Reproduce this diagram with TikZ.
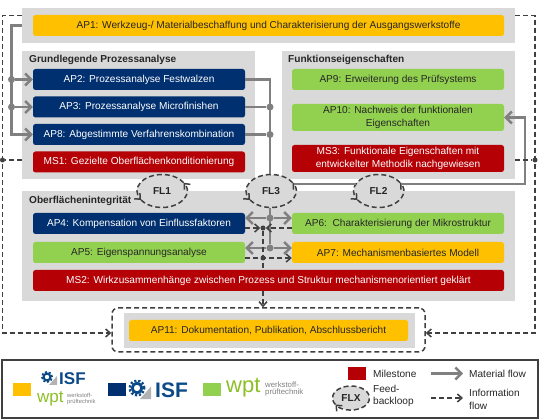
\documentclass[tikz,border=0pt]{standalone}
\usepackage{fontspec}
\setmainfont{Liberation Sans}
\usetikzlibrary{arrows.meta,shapes.geometric}
\definecolor{apyellow}{HTML}{FFC000}
\definecolor{apblue}{HTML}{003070}
\definecolor{apgreen}{HTML}{92D050}
\definecolor{apred}{HTML}{B50005}
\definecolor{boxgray}{HTML}{D9D9D9}
\definecolor{matgray}{HTML}{808080}
\definecolor{infogray}{HTML}{404040}
\definecolor{isfblue}{HTML}{0B4A86}
\definecolor{wptgreen}{HTML}{8CBF26}
\tikzset{
  apbox/.style={rounded corners=2.5pt, inner sep=0pt, align=center, minimum height=21pt, minimum width=212pt, font=\fontsize{10.1}{12.4}\selectfont},
  apY/.style={apbox, fill=apyellow, text=black!85},
  apB/.style={apbox, fill=apblue, text=white},
  apG/.style={apbox, fill=apgreen, text=black!85},
  apR/.style={apbox, fill=apred, text=white},
  group/.style={fill=boxgray, inner sep=0pt},
  title/.style={anchor=west, inner sep=0pt, font=\fontsize{10.1}{12}\selectfont\bfseries, text=black!85},
  matflow/.style={draw=matgray, line width=2.4pt, -{Straight Barb[length=6pt,width=12pt]}},
  matline/.style={draw=matgray, line width=2.4pt},
  infoflow/.style={draw=infogray, line width=1.5pt, dash pattern=on 5pt off 3pt, -{Straight Barb[length=4.5pt,width=8pt]}},
  infoline/.style={draw=infogray, line width=1.5pt, dash pattern=on 5pt off 3pt},
  matdot/.style={circle, fill=matgray, inner sep=0pt, minimum size=7pt},
  infodot/.style={circle, fill=infogray, inner sep=0pt, minimum size=5pt},
  feedback/.style={ellipse, fill=boxgray, inner sep=0pt, minimum width=50pt, minimum height=33pt, font=\fontsize{10.1}{12}\selectfont\bfseries, text=black!85},
  legendtext/.style={anchor=west, inner sep=0pt, align=left, font=\fontsize{10.1}{12.4}\selectfont, text=black!85},
  swatch/.style={inner sep=0pt, minimum width=18pt, minimum height=13pt},
  isflogo/.style={inner sep=0pt, anchor=west, text=isfblue},
  wptlogo/.style={inner sep=0pt, anchor=west, text=wptgreen},
  wpttext/.style={anchor=west, inner sep=0pt, align=left, text=black!50},
}
% arc with a head on the way round a feedback ellipse
\newcommand{\loopback}[3]{\draw[infoflow] ([shift={(#2:25pt and 16.5pt)}]#1.center) arc[start angle=#2, end angle=#3, x radius=25pt, y radius=16.5pt];}
% gear of the logo with its gray corner
\newcommand{\gearlogo}[3]{
  \begin{scope}[shift={(#1,#2)},scale=#3]
  \fill[black!30] (2,-8) -- (10,-8) -- (10,1) -- cycle;
  \draw[isfblue, line width=#3*2pt] (0,0) circle (3.4);
  \draw[isfblue, line width=#3*1.7pt, dash pattern=on 2.2pt off 1.8pt] (0,0) circle (5.2);
  \end{scope}
}
\begin{document}
\begin{tikzpicture}[x=1pt,y=1pt]
\useasboundingbox (0,0) rectangle (541,420);
% groups
\node[group, minimum width=493pt, minimum height=35pt] (top) at (268.5,394.5) {};
\node[group, minimum width=233pt, minimum height=128pt] (grund) at (138.5,305) {};
\node[group, minimum width=233pt, minimum height=128pt] (funk) at (398.5,305) {};
\node[group, minimum width=493pt, minimum height=110pt] (ober) at (268.5,174) {};
\node[group, minimum width=291pt, minimum height=35pt] (docu) at (269,89.5) {};
\node[draw=infogray, line width=1.5pt, dash pattern=on 5pt off 3pt, rounded corners=6pt, inner sep=0pt, minimum width=313pt, minimum height=44pt] (dashbox) at (268.5,90) {};
\node[title] (t1) at (29,360) {Grundlegende Prozessanalyse};
\node[title] (t2) at (288,360) {Funktionseigenschaften};
\node[title] (t3) at (29,219) {Oberflächenintegrität};
% work packages
\node[apY, minimum width=471pt] (ap1) at (268.5,394.5) {AP1: Werkzeug-/ Materialbeschaffung und Charakterisierung der Ausgangswerkstoffe};
\node[apB] (ap2) at (139,340.5) {AP2: Prozessanalyse Festwalzen};
\node[apB] (ap3) at (139,313) {AP3: Prozessanalyse Microfinishen};
\node[apB] (ap8) at (139,285.5) {AP8: Abgestimmte Verfahrenskombination};
\node[apR] (ms1) at (139,258) {MS1: Gezielte Oberflächenkonditionierung};
\node[apG] (ap9) at (398,340.5) {AP9: Erweiterung des Prüfsystems};
\node[apG, minimum height=27pt] (ap10) at (398,302.5) {AP10: Nachweis der funktionalen\\Eigenschaften};
\node[apR, minimum height=27pt] (ms3) at (398,261.5) {MS3: Funktionale Eigenschaften mit\\entwickelter Methodik nachgewiesen};
\node[apB] (ap4) at (139,196.5) {AP4: Kompensation von Einflussfaktoren};
\node[apG] (ap5) at (139,167.5) {AP5: Eigenspannungsanalyse};
\node[apG] (ap6) at (398,196.5) {AP6:\ \ Charakterisierung der Mikrostruktur};
\node[apY] (ap7) at (398,167.5) {AP7: Mechanismenbasiertes Modell};
\node[apR, minimum width=471pt] (ms2) at (268.5,139.5) {MS2: Wirkzusammenhänge zwischen Prozess und Struktur mechanismenorientiert geklärt};
\node[apY, minimum width=279pt] (ap11) at (268.5,89.5) {AP11: Dokumentation, Publikation, Abschlussbericht};
% feedback loops
\node[feedback] (fl1) at (162,229) {FL1};
\node[feedback] (fl3) at (271,229) {FL3};
\node[feedback] (fl2) at (378.5,229) {FL2};
\loopback{fl1}{30}{213}
\loopback{fl1}{213}{390}
\loopback{fl3}{30}{213}
\loopback{fl3}{213}{390}
\loopback{fl2}{30}{213}
\loopback{fl2}{213}{390}
% material flow
\coordinate (c1) at (11.5,285.5);
\coordinate (c2) at (525,302.5);
\node[matdot] (j2) at (11.5,340.5) {};
\node[matdot] (j3) at (11.5,313) {};
\node[matdot] (j4) at (270,313) {};
\node[matdot] (j5) at (270,285.5) {};
\node[matdot] (j6) at (270,202) {};
\node[matdot] (j7) at (270,172) {};
\draw[matflow] (top.west) -| (c1) -- (ap8.west);
\draw[matflow] (j2) -- (ap2.west);
\draw[matflow] (j3) -- (ap3.west);
\draw[matline] (ap2.east) -| (fl3.north -| j4);
\draw[matline] (ap3.east) -- (j4);
\draw[matline] (ap8.east) -- (j5);
\draw[matline] (fl3.17) -- (fl2.163);
\draw[matflow] (fl2.17) -| (c2) -- (ap10.east);
\draw[matline] (fl3.south -| j6) -- (j7);
\draw[matflow] (j6) -- (ap4.east |- j6);
\draw[matflow] (j6) -- (ap6.west |- j6);
\draw[matflow] (j7) -- (ap5.east |- j7);
\draw[matflow] (j7) -- (ap7.west |- j7);
% information flow
\coordinate (c3) at (2.5,87);
\coordinate (c4) at (535,87);
\node[infodot] (j8) at (2.5,260) {};
\node[infodot] (j9) at (535,260) {};
\node[infodot] (j10) at (263,192) {};
\node[infodot] (j11) at (263,162) {};
\draw[infoflow] ([yshift=10pt]top.west) -| (c3) -- (dashbox.west |- c3);
\draw[infoflow] ([yshift=10pt]top.east) -| (c4) -- (dashbox.east |- c4);
\draw[infoline] (grund.west |- j8) -- (j8);
\draw[infoline] (funk.east |- j9) -- (j9);
\draw[infoflow] (ap4.east |- j10) -- (j10);
\draw[infoflow] (ap6.west |- j10) -- (j10);
\draw[infoflow] (ap5.east |- j11) -- (ap7.west |- j11);
\draw[infoline] (j10) -- (ms2.north -| j10);
\draw[infoflow] (ms2.south -| j10) -- (dashbox.north -| j10);
% legend
\node[draw=black!75, line width=1.5pt, inner sep=0pt, minimum width=536pt, minimum height=58pt] (legend) at (270,31) {};
\node[swatch, fill=apyellow] (s1) at (22,30.5) {};
\node[swatch, fill=apblue] (s2) at (117,30.5) {};
\node[swatch, fill=apgreen] (s3) at (212,30.5) {};
\gearlogo{47}{43}{1}
\node[isflogo, font=\fontsize{17}{17}\selectfont\bfseries] (isf1) at (59,41.5) {ISF};
\node[wptlogo, font=\fontsize{17}{17}\selectfont] (wpt1) at (37,21) {wpt};
\node[wpttext, font=\fontsize{5.8}{5.8}\selectfont] (wt1) at (67,21) {werkstoff-\\prüftechnik};
\gearlogo{137}{32}{1.4}
\node[isflogo, font=\fontsize{21}{21}\selectfont\bfseries] (isf2) at (155,30) {ISF};
\node[wptlogo, font=\fontsize{22}{22}\selectfont] (wpt2) at (226,32) {wpt};
\node[wpttext, font=\fontsize{7.8}{7.6}\selectfont] (wt2) at (265,31) {werkstoff-\\prüftechnik};
\node[swatch, fill=apred] (s4) at (357,46.5) {};
\node[legendtext] (l1) at (373,46.5) {Milestone};
\node[legendtext] (l2) at (373,24) {Feed-\\backloop};
\node[legendtext] (l3) at (469,46.5) {Material flow};
\node[legendtext] (l4) at (469,20.5) {Information\\flow};
\node[feedback, minimum width=37pt, minimum height=24pt] (flx) at (351,22) {FLX};
\draw[infoflow] ([shift={(213:18.5pt and 12pt)}]flx.center) arc[start angle=213, end angle=-147, x radius=18.5pt, y radius=12pt];
\coordinate (m1) at (431,46.5);
\coordinate (m2) at (463,46.5);
\coordinate (m3) at (431,22);
\coordinate (m4) at (463,22);
\draw[matflow] (m1) -- (m2);
\draw[infoflow] (m3) -- (m4);
\end{tikzpicture}
\end{document}
